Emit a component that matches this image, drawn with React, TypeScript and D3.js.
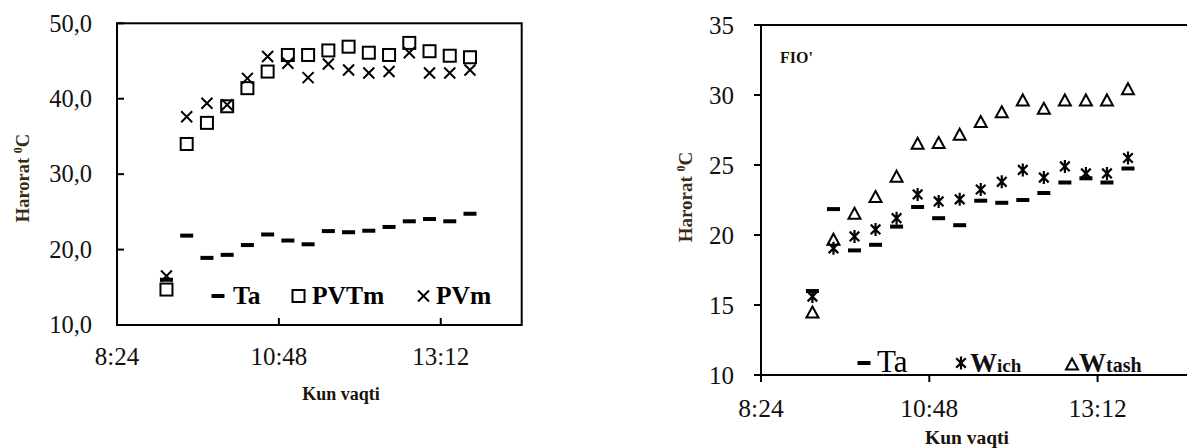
import React from 'react';
import * as d3 from 'd3';

const times = ["9:08", "9:26", "9:44", "10:02", "10:20", "10:38", "10:56", "11:14", "11:32", "11:50", "12:08", "12:26", "12:44", "13:02", "13:20", "13:38"];
const ta = [16.0, 21.85, 18.9, 19.3, 20.6, 22.0, 21.2, 20.7, 22.45, 22.3, 22.5, 23.0, 23.75, 24.05, 23.75, 24.75];
const pvtm = [14.7, 34.0, 36.8, 39.0, 41.4, 43.6, 45.8, 45.8, 46.4, 46.9, 46.1, 45.8, 47.4, 46.3, 45.7, 45.5];
const pvm = [16.5, 37.6, 39.4, 39.2, 42.7, 45.6, 44.7, 42.8, 44.6, 43.8, 43.4, 43.6, 46.1, 43.4, 43.4, 43.8];
const wich = [15.6, 19.05, 19.9, 20.4, 21.2, 22.9, 22.4, 22.55, 23.25, 23.8, 24.65, 24.1, 24.9, 24.4, 24.4, 25.5];
const wtash = [14.5, 19.7, 21.55, 22.75, 24.2, 26.55, 26.6, 27.2, 28.1, 28.8, 29.65, 29.05, 29.65, 29.65, 29.65, 30.45];
const xTickLabels = ["8:24", "10:48", "13:12"];
const leftYTicks = [10, 20, 30, 40, 50];
const rightYTicks = [10, 15, 20, 25, 30, 35];

const toMin = (s: string) => {
  const [h, m] = s.split(":").map(Number);
  return h * 60 + m;
};

const FONT = '"Liberation Serif", "Times New Roman", "DejaVu Serif", serif';
const TITLE_COLOR = '#3a2a12';

function Marker({ type, x, y }: { type: string; x: number; y: number }) {
  if (type === 'dash') {
    return <rect x={x - 6.5} y={y - 2} width={13} height={4} fill="#000" />;
  }
  if (type === 'square') {
    return <rect x={x - 6} y={y - 6} width={12} height={12} fill="none" stroke="#000" strokeWidth={2} />;
  }
  if (type === 'x') {
    const r = 5.5;
    return <path d={`M${x - r},${y - r}L${x + r},${y + r}M${x - r},${y + r}L${x + r},${y - r}`} stroke="#000" strokeWidth={2} fill="none" />;
  }
  if (type === 'triangle') {
    const w = 6, h = 5.5;
    return <path d={`M${x},${y - h}L${x + w},${y + h}L${x - w},${y + h}Z`} fill="none" stroke="#000" strokeWidth={2} strokeLinejoin="miter" />;
  }
  if (type === 'star') {
    const r = 4.8;
    return <path d={`M${x - r},${y - r}L${x + r},${y + r}M${x - r},${y + r}L${x + r},${y - r}M${x},${y - 6.5}L${x},${y + 6.5}`} stroke="#000" strokeWidth={2.2} fill="none" />;
  }
  return null;
}

function LeftChart() {
  const L = 117, R = 521.7, T = 23.3, B = 325;
  const x = d3.scaleLinear().domain([toMin("8:24"), toMin("14:24")]).range([L, R]);
  const y = d3.scaleLinear().domain([10, 50]).range([B, T]);
  const fmt = (v: number) => d3.format(".1f")(v).replace(".", ",");
  const series = [
    { data: ta, type: 'dash' },
    { data: pvtm, type: 'square' },
    { data: pvm, type: 'x' },
  ];
  return (
    <g>
      {leftYTicks.map((t) => (
        <g key={t}>
          <line x1={L} x2={L + 7} y1={y(t)} y2={y(t)} stroke="#000" strokeWidth={2} />
          <text x={92} y={y(t)} dy="0.34em" textAnchor="end" fontSize={24.5} style={{ fontFamily: FONT }} fill="#111">{fmt(t)}</text>
        </g>
      ))}
      {xTickLabels.map((t) => (
        <g key={t}>
          <line x1={x(toMin(t))} x2={x(toMin(t))} y1={B} y2={B - 7} stroke="#000" strokeWidth={2} />
          <text x={x(toMin(t))} y={365} textAnchor="middle" fontSize={25} style={{ fontFamily: FONT }} fill="#111">{t}</text>
        </g>
      ))}
      <rect x={L} y={T} width={R - L} height={B - T} fill="none" stroke="#000" strokeWidth={2} />
      {series.map((s) => s.data.map((v, i) => (
        <Marker key={s.type + i} type={s.type} x={x(toMin(times[i]))} y={y(v)} />
      )))}
      {/* legend */}
      <Marker type="dash" x={218} y={296} />
      <text x={233} y={304} fontSize={25.5} fontWeight="bold" style={{ fontFamily: FONT }}>Ta</text>
      <Marker type="square" x={298.5} y={296} />
      <text x={312} y={304} fontSize={25.5} fontWeight="bold" style={{ fontFamily: FONT }}>PVTm</text>
      <Marker type="x" x={423.5} y={296} />
      <text x={436} y={304} fontSize={25.5} fontWeight="bold" style={{ fontFamily: FONT }}>PVm</text>
      <text x={341} y={400} textAnchor="middle" fontSize={18} fontWeight="bold" style={{ fontFamily: FONT }} fill="#1a1208">Kun vaqti</text>
      <text transform={`translate(29,178) rotate(-90)`} textAnchor="middle" fontSize={18.5} fontWeight="bold" style={{ fontFamily: FONT }} fill={TITLE_COLOR}>
        Harorat <tspan dy="-7" fontSize={12}>0</tspan><tspan dy="7">C</tspan>
      </text>
    </g>
  );
}

function RightChart() {
  const L = 761, T = 25, B = 375;
  const x = d3.scaleLinear().domain([toMin("8:24"), toMin("10:48")]).range([L, 929.3]);
  const y = d3.scaleLinear().domain([10, 35]).range([B, T]);
  const RE = 1190;
  const series = [
    { data: ta, type: 'dash' },
    { data: wich, type: 'star' },
    { data: wtash, type: 'triangle' },
  ];
  return (
    <g>
      <line x1={L} x2={RE} y1={T} y2={T} stroke="#000" strokeWidth={2} />
      <line x1={L} x2={RE} y1={B} y2={B} stroke="#000" strokeWidth={2} />
      <line x1={L} x2={L} y1={T} y2={B} stroke="#000" strokeWidth={2} />
      {rightYTicks.map((t) => (
        <g key={t}>
          <line x1={L - 7} x2={L} y1={y(t)} y2={y(t)} stroke="#000" strokeWidth={2} />
          <text x={734} y={y(t)} dy="0.34em" textAnchor="end" fontSize={25} style={{ fontFamily: FONT }} fill="#111">{t}</text>
        </g>
      ))}
      {xTickLabels.map((t) => (
        <g key={t}>
          <line x1={x(toMin(t))} x2={x(toMin(t))} y1={B} y2={B + 7} stroke="#000" strokeWidth={2} />
          <text x={x(toMin(t))} y={417} textAnchor="middle" fontSize={25.5} style={{ fontFamily: FONT }} fill="#111">{t}</text>
        </g>
      ))}
      {series.map((s) => s.data.map((v, i) => (
        <Marker key={s.type + i} type={s.type} x={x(toMin(times[i]))} y={y(v)} />
      )))}
      <text x={780} y={63} fontSize={16} fontWeight="bold" style={{ fontFamily: FONT }} fill="#1a1208">FIO'</text>
      {/* legend */}
      <Marker type="dash" x={864} y={363} />
      <text x={877} y={372} fontSize={31} style={{ fontFamily: FONT }}>Ta</text>
      <Marker type="star" x={961} y={363} />
      <text x={970} y={372} fontWeight="bold" style={{ fontFamily: FONT }} fill="#111">
        <tspan fontSize={27}>W</tspan><tspan fontSize={19}>ich</tspan>
      </text>
      <Marker type="triangle" x={1072} y={364} />
      <text x={1079} y={372} fontWeight="bold" style={{ fontFamily: FONT }} fill="#111">
        <tspan fontSize={27}>W</tspan><tspan fontSize={20}>tash</tspan>
      </text>
      <text x={967} y={444} textAnchor="middle" fontSize={19.5} fontWeight="bold" style={{ fontFamily: FONT }} fill="#1a1208">Kun vaqti</text>
      <text transform={`translate(692,197) rotate(-90)`} textAnchor="middle" fontSize={19} fontWeight="bold" style={{ fontFamily: FONT }} fill={TITLE_COLOR}>
        Harorat <tspan dy="-7" fontSize={12}>0</tspan><tspan dy="7">C</tspan>
      </text>
    </g>
  );
}

export default function App() {
  return (
    <svg width={1187} height={448} style={{ position: 'absolute', left: 0, top: 0, background: '#fff' }}>
      <rect width={1187} height={448} fill="#fff" />
      <LeftChart />
      <RightChart />
    </svg>
  );
}
